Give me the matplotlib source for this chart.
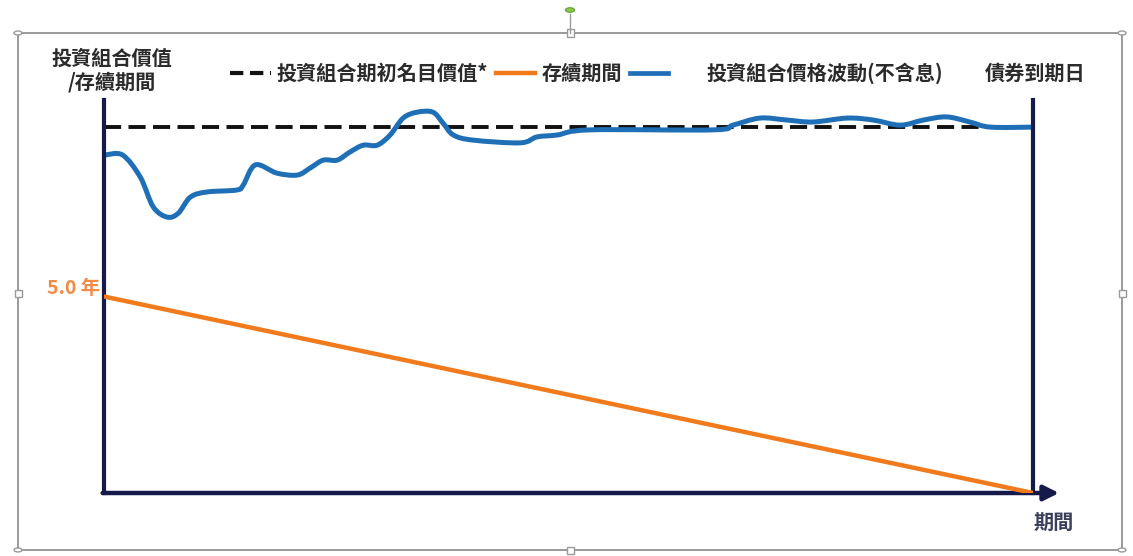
import matplotlib
matplotlib.use("Agg")
import matplotlib.pyplot as plt
from matplotlib.patches import Rectangle, Circle, PathPatch
from matplotlib.lines import Line2D
from matplotlib.path import Path

plt.rcParams['font.family'] = ['Noto Sans CJK TC', 'DejaVu Sans']

# ---- data ----
# time axis: 0 = start, 100 = bond maturity
price_t = [0.1, 2.0, 3.9, 5.3, 6.8, 8.0, 9.3, 11.1, 14.3, 15.0, 16.3, 18.6, 20.8,
           22.2, 23.6, 25.1, 26.5, 27.9, 29.4, 30.8, 32.2, 33.7, 35.4, 36.5, 37.6,
           39.7, 44.8, 46.6, 48.8, 52.3, 65.6, 67.7, 70.6, 73.5, 76.3, 80.0, 82.8,
           85.7, 88.2, 90.7, 93.2, 95.4, 100.0]
price_v = [86.0, 86.0, 80.4, 72.8, 70.2, 71.2, 75.3, 76.6, 77.1, 78.4, 83.5, 81.4, 80.9,
           82.7, 84.7, 84.7, 86.8, 88.5, 88.5, 91.1, 95.4, 96.9, 96.9, 94.1, 91.1,
           89.8, 89.1, 90.6, 91.1, 92.4, 92.4, 93.6, 95.4, 94.9, 94.4, 95.4, 94.9,
           93.6, 94.9, 95.7, 94.4, 93.1, 93.1]
nominal_t = [0, 100]
nominal_v = [93.1, 93.1]
duration_t = [0, 100]
duration_years = [5.0, 0.0]
duration_label = "5.0 年"

y_label = "投資組合價值\n/存續期間"
legend_labels = ["投資組合期初名目價值*", "存續期間", "投資組合價格波動(不含息)"]
maturity_label = "債券到期日"
x_label = "期間"

W, H = 1133, 556
fig = plt.figure(figsize=(W / 100, H / 100), dpi=100)
fig.patch.set_facecolor("white")

def fx(px):
    return px / W

def fy(py):
    return 1 - py / H

NAVY = "#161a4a"
BLUE = "#1f6fb6"
ORANGE = "#f07a1c"
TXT = "#2b2b2b"
FS = 14.5

ax = fig.add_axes([fx(104), fy(493), fx(1033) - fx(104), fy(100) - fy(493)])
ax.set_xlim(0, 100)
ax.set_ylim(0, 100)
ax.axis("off")
ax2 = ax.twinx()
ax2.set_ylim(0, 10)
ax2.axis("off")

# nominal dashed line
ax.plot(nominal_t, nominal_v, color="#111111", lw=2.8, dashes=(4.4, 1.9), zorder=3)

# price line drawn as a smooth (Catmull-Rom style) Bezier path through the data points
pts = list(zip(price_t, price_v))
verts = [pts[0]]
codes = [Path.MOVETO]
n = len(pts)
for i in range(n - 1):
    p0 = pts[i - 1] if i > 0 else pts[i]
    p1 = pts[i]
    p2 = pts[i + 1]
    p3 = pts[i + 2] if i + 2 < n else pts[i + 1]
    c1 = (p1[0] + (p2[0] - p0[0]) / 6, p1[1] + (p2[1] - p0[1]) / 6)
    c2 = (p2[0] - (p3[0] - p1[0]) / 6, p2[1] - (p3[1] - p1[1]) / 6)
    verts += [c1, c2, p2]
    codes += [Path.CURVE4] * 3
ax.add_patch(PathPatch(Path(verts, codes), fill=False, ec=BLUE, lw=3.6,
                       joinstyle="round", capstyle="round", zorder=4))

# duration line
ax2.plot(duration_t, duration_years, color=ORANGE, lw=3.2, zorder=5)

# axes frame lines
ax.plot([0, 0], [0, 100], color=NAVY, lw=3, zorder=6, clip_on=False)
ax.plot([100, 100], [0, 100], color=NAVY, lw=3, zorder=6, clip_on=False)
ax.annotate("", xy=(102.8, 0), xytext=(-0.15, 0), xycoords="data",
            arrowprops=dict(arrowstyle="-|>,head_length=0.9,head_width=0.45",
                            color=NAVY, lw=3.2, shrinkA=0, shrinkB=0),
            annotation_clip=False, zorder=6)

# texts
fig.text(fx(112), fy(70), y_label, ha="center", va="center", fontsize=FS,
         fontweight="bold", color=TXT, linespacing=1.2)
fig.text(fx(100), fy(288), duration_label, ha="right", va="center", fontsize=14,
         fontweight="bold", color="#f08c44")
fig.text(fx(1034), fy(522), x_label, ha="left", va="center", fontsize=FS,
         fontweight="bold", color="#3a3f5c")
fig.text(fx(1035), fy(73), maturity_label, ha="center", va="center", fontsize=FS,
         fontweight="bold", color=TXT)

# legend (manual)
fig.add_artist(Line2D([fx(230), fx(271)], [fy(73), fy(73)], color="#111111", lw=3,
                      dashes=(3.2, 1.6), transform=fig.transFigure))
fig.text(fx(277), fy(73), legend_labels[0], ha="left", va="center", fontsize=FS,
         fontweight="bold", color=TXT)
fig.add_artist(Line2D([fx(496), fx(535)], [fy(73), fy(73)], color=ORANGE, lw=3.2,
                      transform=fig.transFigure))
fig.text(fx(542), fy(73), legend_labels[1], ha="left", va="center", fontsize=FS,
         fontweight="bold", color=TXT)
fig.add_artist(Line2D([fx(630), fx(668)], [fy(73), fy(73)], color=BLUE, lw=3.4,
                      transform=fig.transFigure))
fig.text(fx(707), fy(73), legend_labels[2], ha="left", va="center", fontsize=FS,
         fontweight="bold", color=TXT)

# selection frame decoration
GRAY = "#9a9a9a"
fig.add_artist(Rectangle((fx(18), fy(550)), fx(1122) - fx(18), fy(33) - fy(550),
                         fill=False, ec=GRAY, lw=1.4, transform=fig.transFigure))
fig.add_artist(Line2D([fx(570), fx(570)], [fy(14), fy(33)], color=GRAY, lw=1,
                      transform=fig.transFigure))
for (px, py) in [(18, 33), (1122, 33), (18, 550), (1122, 550)]:
    fig.add_artist(Circle((fx(px), fy(py)), radius=4 / W, ec=GRAY, fc="white",
                          lw=1, transform=fig.transFigure))
for (px, py) in [(570, 33), (570, 550), (18, 293), (1122, 293)]:
    fig.add_artist(Rectangle((fx(px - 3.5), fy(py + 3.5)), 7 / W, 7 / H, ec=GRAY,
                             fc="white", lw=1, transform=fig.transFigure))
fig.add_artist(Circle((fx(570), fy(10)), radius=4.5 / W, ec="#6aa83a", fc="#8cc850",
                      lw=1, transform=fig.transFigure))

fig.savefig("out.png", dpi=100, facecolor="white")
